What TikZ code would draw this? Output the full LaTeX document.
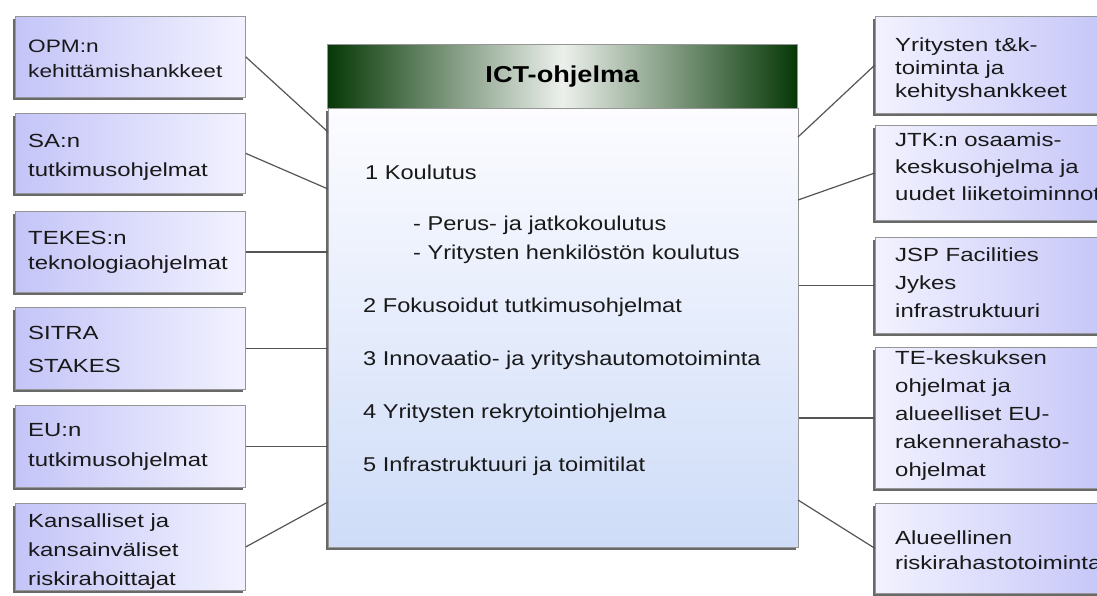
\documentclass[tikz,border=0pt]{standalone}
\usepackage{fontspec}
\setmainfont{Liberation Sans}[FakeStretch=1.18]
\newfontfamily\sidefont{Liberation Sans}[FakeStretch=1.26]
\usetikzlibrary{shadows}
\definecolor{lav}{RGB}{196,196,248}
\definecolor{lavl}{RGB}{242,242,255}
\definecolor{bodyb}{RGB}{206,220,248}
\definecolor{bodyt}{RGB}{252,252,255}
\definecolor{hdark}{RGB}{6,56,6}
\definecolor{hmid}{RGB}{236,240,236}
\definecolor{conn}{RGB}{85,85,85}
\definecolor{edge}{RGB}{150,150,150}
\definecolor{txt}{RGB}{25,25,25}
\begin{document}
\begin{tikzpicture}[x=1pt,y=-1pt,
  boxbase/.style={draw=edge, line width=0.8pt, inner sep=0pt, anchor=north west,
    drop shadow={shadow xshift=-2pt,shadow yshift=-3pt,fill=black!65,opacity=0.9}},
  lbox/.style={boxbase, left color=lav, right color=lavl, minimum width=230pt},
  rbox/.style={boxbase, left color=lavl, right color=lav, minimum width=240pt},
  stext/.style={inner sep=0pt, anchor=north west, align=left, text=txt},
  ctext/.style={inner sep=0pt, anchor=base west, text=txt, font=\fontsize{20}{24}\selectfont},
  link/.style={draw=conn, line width=1.2pt}
]
\useasboundingbox (0,0) rectangle (1097,595);
\clip (0,0) rectangle (1097,595);
\fill[white] (0,0) rectangle (1097,595);

% central box
\node[boxbase, top color=bodyt, bottom color=bodyb, minimum width=470pt, minimum height=439pt] (body) at (328,108) {};
\node[draw=edge, line width=0.8pt, inner sep=0pt, anchor=north west, left color=hdark, right color=hdark, middle color=hmid,
  minimum width=470pt, minimum height=64pt, text=black, font=\fontsize{23}{26}\selectfont\bfseries] (hdr) at (327,44) {ICT-ohjelma};

\node[ctext] (c1) at (365,179) {1 Koulutus};
\node[ctext] (c1a) at (413,230) {- Perus- ja jatkokoulutus};
\node[ctext] (c1b) at (413,259) {- Yritysten henkilöstön koulutus};
\node[ctext] (c2) at (363,312) {2 Fokusoidut tutkimusohjelmat};
\node[ctext] (c3) at (363,365) {3 Innovaatio- ja yrityshautomotoiminta};
\node[ctext] (c4) at (363,418) {4 Yritysten rekrytointiohjelma};
\node[ctext] (c5) at (363,471) {5 Infrastruktuuri ja toimitilat};

% left boxes
\node[lbox, minimum height=81pt] (l1) at (15,16) {};
\node[lbox, minimum height=80pt] (l2) at (15,113) {};
\node[lbox, minimum height=81pt] (l3) at (15,211) {};
\node[lbox, minimum height=82pt] (l4) at (15,307) {};
\node[lbox, minimum height=82pt] (l5) at (15,405) {};
\node[lbox, minimum height=87pt] (l6) at (15,503) {};

\node[stext, font=\sidefont\fontsize{18}{25}\selectfont] (tl1) at (28,40) {OPM:n\\kehittämishankkeet};
\node[stext, font=\sidefont\fontsize{19}{29}\selectfont] (tl2) at (28,134) {SA:n\\tutkimusohjelmat};
\node[stext, font=\sidefont\fontsize{19}{25}\selectfont] (tl3) at (28,231) {TEKES:n\\teknologiaohjelmat};
\node[stext, font=\sidefont\fontsize{19}{33}\selectfont] (tl4) at (28,326) {SITRA\\STAKES};
\node[stext, font=\sidefont\fontsize{19}{30}\selectfont] (tl5) at (28,423) {EU:n\\tutkimusohjelmat};
\node[stext, font=\sidefont\fontsize{19}{29}\selectfont] (tl6) at (28,514) {Kansalliset ja\\kansainväliset\\riskirahoittajat};

% right boxes
\node[rbox, minimum height=97pt] (r1) at (875,16) {};
\node[rbox, minimum height=95pt] (r2) at (875,125) {};
\node[rbox, minimum height=96pt] (r3) at (875,237) {};
\node[rbox, minimum height=141pt] (r4) at (875,347) {};
\node[rbox, minimum height=90pt] (r5) at (875,503) {};

\node[stext, font=\sidefont\fontsize{19}{23}\selectfont] (tr1) at (895,38) {Yritysten t\&k-\\toiminta ja\\kehityshankkeet};
\node[stext, font=\sidefont\fontsize{19}{27}\selectfont] (tr2) at (895,133) {JTK:n osaamis-\\keskusohjelma ja\\uudet liiketoiminnot};
\node[stext, font=\sidefont\fontsize{19}{28}\selectfont] (tr3) at (895,248) {JSP Facilities\\Jykes\\infrastruktuuri};
\node[stext, font=\sidefont\fontsize{19}{28}\selectfont] (tr4) at (895,351) {TE-keskuksen\\ohjelmat ja\\alueelliset EU-\\rakennerahasto-\\ohjelmat};
\node[stext, font=\sidefont\fontsize{19}{25}\selectfont] (tr5) at (895,531) {Alueellinen\\riskirahastotoiminta};

% connector end points on the central box
\coordinate (cl1) at (328,132);
\coordinate (cl2) at (328,189);
\coordinate (cl6) at (328,502);
\coordinate (cr1) at (798,137);
\coordinate (cr2) at (798,200);
\coordinate (cr5) at (798,500);

\draw[link] (l1.east) -- (cl1);
\draw[link] (l2.east) -- (cl2);
\draw[link] (l3.east) -- (l3.east -| body.west);
\draw[link] (l4.east) -- (l4.east -| body.west);
\draw[link] (l5.east) -- (l5.east -| body.west);
\draw[link] (l6.east) -- (cl6);
\draw[link] (r1.west) -- (cr1);
\draw[link] (r2.west) -- (cr2);
\draw[link] (r3.west) -- (r3.west -| body.east);
\draw[link] (r4.west) -- (r4.west -| body.east);
\draw[link] (r5.west) -- (cr5);
\end{tikzpicture}
\end{document}
